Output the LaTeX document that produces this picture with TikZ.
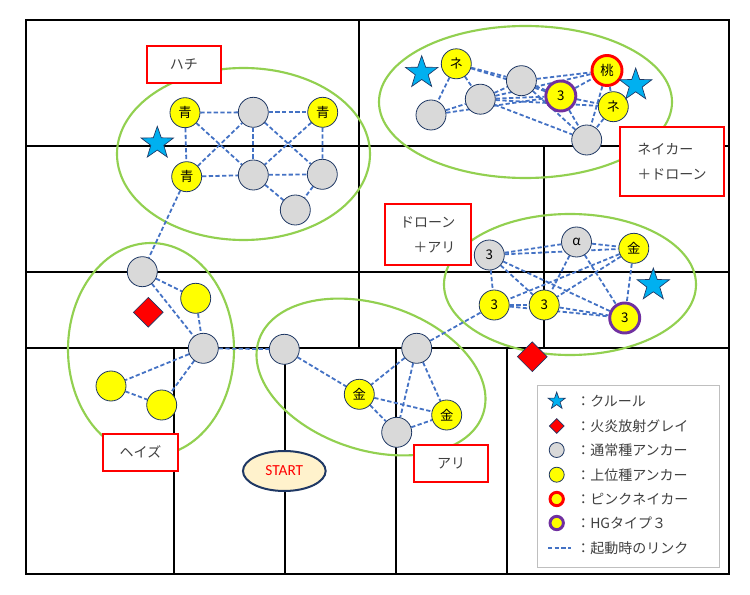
\documentclass[tikz,border=0pt]{standalone}
\usepackage{fontspec}
\setmainfont{Noto Sans CJK JP}
\newfontfamily\carl{Carlito}
\usetikzlibrary{shapes.geometric}
\pgfdeclarelayer{back}
\pgfdeclarelayer{mid}
\pgfsetlayers{back,mid,main}
\definecolor{lk}{HTML}{4472C4}
\definecolor{grn}{HTML}{92D050}
\definecolor{nv}{HTML}{1F3864}
\definecolor{gry}{HTML}{D9D9D9}
\definecolor{ylw}{HTML}{FFFF00}
\definecolor{prp}{HTML}{7030A0}
\definecolor{sky}{HTML}{00B0F0}
\definecolor{txt}{HTML}{404040}
\definecolor{stf}{HTML}{FFF2CC}
\definecolor{lgr}{HTML}{BFBFBF}
\tikzset{
  gridline/.style={black, line width=1.3pt},
  grp/.style={grn, line width=1.6pt},
  lnk/.style={lk, line width=1.35pt, dash pattern=on 3.2pt off 1.8pt},
  gn/.style={circle, draw=nv, line width=0.6pt, fill=gry, minimum size=22.5pt, inner sep=0pt, font=\fontsize{10}{12}\selectfont},
  yn/.style={gn, fill=ylw},
  pk/.style={yn, draw=red, line width=2.2pt},
  hg/.style={yn, draw=prp, line width=2.2pt},
  crl/.style={star, star points=5, star point ratio=2.5, fill=sky, draw=nv, line width=0.5pt, minimum size=25.5pt, inner sep=0pt},
  fire/.style={diamond, fill=red, draw=nv, line width=0.5pt, minimum size=22.5pt, inner sep=0pt},
  lbox/.style={rectangle, draw=red, line width=1.5pt, fill=white, text=txt, font=\fontsize{10.5}{18.75}\selectfont, inner sep=0pt},
  legtxt/.style={anchor=west, inner sep=0pt, text=txt, font=\fontsize{10.5}{12}\selectfont},
}
\begin{document}
\begin{tikzpicture}[x=0.75pt, y=-0.75pt]
\useasboundingbox (0,0) rectangle (750,595);
\begin{pgfonlayer}{back}
% grid
\draw[gridline] (26,20) rectangle (729,574);
\draw[gridline] (26,146) -- (729,146);
\draw[gridline] (26,272) -- (729,272);
\draw[gridline] (26,348) -- (729,348);
\draw[gridline] (359,20) -- (359,348);
\draw[gridline] (544,146) -- (544,348);
\draw[gridline] (174,348) -- (174,574);
\draw[gridline] (285,348) -- (285,574);
\draw[gridline] (396,348) -- (396,574);
\draw[gridline] (507,348) -- (507,574);
% group ellipses
\draw[grp] (243.5,154) ellipse [x radius=126.5, y radius=86];
\draw[grp] (525.5,102) ellipse [x radius=146.5, y radius=76];
\draw[grp] (570,284.5) ellipse [x radius=126, y radius=70.5];
\draw[grp] (151,349.5) ellipse [x radius=83, y radius=106.5];
\draw[grp, rotate around={-18:(371,377)}] (371,377) ellipse [x radius=118, y radius=73];
\end{pgfonlayer}
% Hachi nodes
\node[yn] (h1) at (185,112.7) {青};
\node[gn] (hA) at (253.3,112.3) {};
\node[yn] (h2) at (322.7,112.3) {青};
\node[yn] (h3) at (186.7,176.7) {青};
\node[gn] (hB) at (253.3,175) {};
\node[gn] (hC) at (322.3,174.3) {};
\node[gn] (hD) at (295.3,210) {};
\node[crl] (hs) at (157.3,143.3) {};
% Haze nodes
\node[gn] (zt) at (142.3,271.7) {};
\node[yn] (zy) at (195.7,298.3) {};
\node[fire] (zd) at (148.3,312.3) {};
\node[gn] (zm) at (203.3,348.3) {};
\node[yn] (zl) at (111,386) {};
\node[yn] (zb) at (161.7,405) {};
% Ari nodes
\node[gn] (al) at (284.3,349.3) {};
\node[gn] (ar) at (416.7,348.3) {};
\node[yn] (ak1) at (359.3,394.3) {金};
\node[yn] (ak2) at (446.7,415) {金};
\node[gn] (ab) at (396.7,432.3) {};
% Drone nodes
\node[gn] (dg) at (489.3,255) {3};
\node[gn] (da) at (576.5,242) {α};
\node[yn] (dk) at (633.8,248.3) {金};
\node[yn] (dl) at (494.2,305) {3};
\node[yn] (dm) at (544.2,305) {3};
\node[hg] (dp) at (624.7,318) {3};
\node[crl] (ds) at (653.3,285) {};
\node[fire] (dd) at (532.3,356.7) {};
% Neika nodes
\node[yn] (n1) at (456.3,63.8) {ネ};
\node[gn] (na) at (431,115) {};
\node[gn] (nb) at (480.3,99.2) {};
\node[gn] (nc) at (521.4,80.7) {};
\node[hg] (np) at (560.8,96) {3};
\node[pk] (nm) at (607,70.5) {桃};
\node[yn] (n2) at (613.3,106.7) {ネ};
\node[gn] (nd) at (586.7,140) {};
\node[crl] (ns1) at (421.7,72.7) {};
\node[crl] (ns2) at (635.7,85) {};
% links (behind nodes)
\begin{pgfonlayer}{mid}
\foreach \a/\b in {h1/hA, hA/h2, h1/h3, h1/hB, h3/hA, hA/hB, hA/hC, h2/hB, h2/hC, h3/hB, hB/hC, hB/hD, hC/hD, h3/zt,
  zt/zy, zt/zm, zy/zm, zm/zl, zm/zb, zl/zb, zm/al,
  al/ak1, ar/ak1, ar/ab, ar/ak2, ak1/ak2, ak1/ab, ab/ak2, ar/dl,
  dg/da, dg/dk, da/dk, dg/dl, dg/dm, dg/dp, da/dm, da/dp, dk/dl, dk/dm, dk/dp, dl/dm, dl/dp, dm/dp,
  n1/na, n1/nb, n1/nc, n1/np, na/nb, na/np, nb/nc, nb/np, nb/n2, nb/nd, nb/nm, nc/nm, nc/np, nc/nd, np/nm, np/n2, np/nd, nm/nd, n2/nd, nm/n2}
  \draw[lnk] (\a) -- (\b);
\end{pgfonlayer}
% label boxes
\node[lbox, minimum width=55.7pt, minimum height=27.75pt] (lhachi) at (183.8,64.2) {ハチ};
\node[lbox, minimum width=78pt, minimum height=52pt, align=left] (lneika) at (672,161.3) {ネイカー\\＋ドローン};
\node[lbox, minimum width=64.3pt, minimum height=45.75pt, align=right] (ldrone) at (427.8,234.5) {ドローン\\＋アリ};
\node[lbox, minimum width=55.8pt, minimum height=27.5pt] (lhaze) at (140.5,452.3) {ヘイズ};
\node[lbox, minimum width=55.7pt, minimum height=27.75pt] (lari) at (451.2,463.5) {アリ};
% start
\node[ellipse, draw=nv, line width=1.5pt, fill=stf, minimum width=62pt, minimum height=30pt, inner sep=0pt, text=red, font=\carl\fontsize{11.5}{13}\selectfont] (start) at (284.3,471) {START};
% legend
\node[draw=lgr, line width=0.8pt, fill=white, minimum width=136.5pt, minimum height=136.7pt, inner sep=0pt] (leg) at (628.3,476.2) {};
\node[crl, minimum size=13.5pt] (k1) at (556.7,401) {};
\node[fire, minimum size=11.25pt] (k2) at (556.7,426) {};
\node[gn, minimum size=11.25pt] (k3) at (556.7,450) {};
\node[yn, minimum size=11.25pt] (k4) at (556.7,474.7) {};
\node[pk, minimum size=10pt] (k5) at (556.7,499) {};
\node[hg, minimum size=10pt] (k6) at (556.7,523) {};
\coordinate (k7a) at (548,548.3);
\coordinate (k7b) at (570.7,548.3);
\draw[lnk] (k7a) -- (k7b);
\node[legtxt] (t1) at (576,401) {：クルール};
\node[legtxt] (t2) at (576,426) {：火炎放射グレイ};
\node[legtxt] (t3) at (576,450) {：通常種アンカー};
\node[legtxt] (t4) at (576,474.7) {：上位種アンカー};
\node[legtxt] (t5) at (576,499) {：ピンクネイカー};
\node[legtxt] (t6) at (576,523) {：HGタイプ３};
\node[legtxt] (t7) at (576,548.3) {：起動時のリンク};
\end{tikzpicture}
\end{document}
